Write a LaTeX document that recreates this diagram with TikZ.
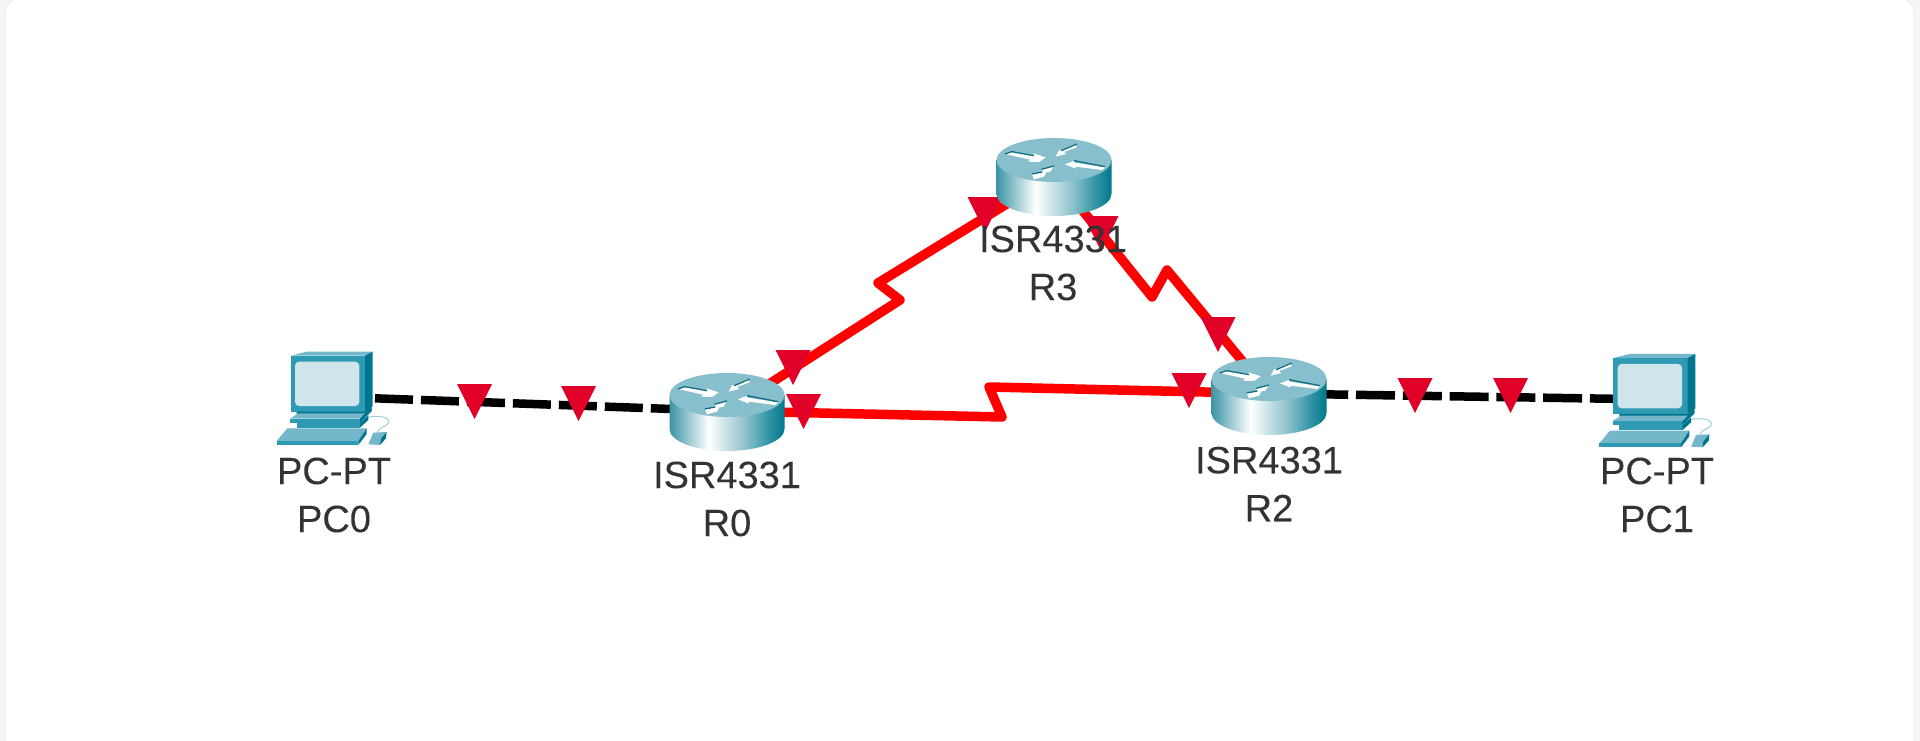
\documentclass[tikz,border=0pt]{standalone}
\usepackage{fontspec}
\setmainfont[FakeBold=0.12]{Liberation Sans}
\definecolor{cardbg}{HTML}{F6F6F6}
\definecolor{cardedge}{HTML}{ECECEC}
\definecolor{statusred}{HTML}{E00028}
\definecolor{linkred}{HTML}{FF0000}
\definecolor{txt}{HTML}{333333}
\definecolor{rtop}{HTML}{88BFCD}
\definecolor{rshadow}{HTML}{0F6F80}
\definecolor{pcmid}{HTML}{2F9AB4}
\definecolor{pcdark}{HTML}{00758F}
\definecolor{pclight}{HTML}{74B6CA}
\definecolor{pcscreen}{HTML}{D0E4EC}
\pgfdeclarehorizontalshading{routerside}{100bp}{
  rgb(0bp)=(0.23,0.58,0.65);
  rgb(25bp)=(0.23,0.58,0.65);
  rgb(42bp)=(1,1,1);
  rgb(58bp)=(0.55,0.76,0.80);
  rgb(68bp)=(0.20,0.58,0.65);
  rgb(75bp)=(0,0.47,0.55);
  rgb(100bp)=(0,0.47,0.55)}
\tikzset{
  x=1pt,y=-1pt,
  hub/.style={inner sep=0pt,minimum size=0pt,outer sep=0pt},
  serial/.style={draw=linkred,line width=9.5pt,line join=round},
  ether/.style={draw=black,line width=8.5pt},
  label/.style={text=txt,align=center,font=\fontsize{38}{48}\selectfont,inner sep=0pt},
  tri/.pic={\fill[statusred] (-17.5,0) -- (17.5,0) -- (0,35) -- cycle;},
  router/.pic={
    \path[shading=routerside] (-57.5,0) -- (-57.5,34) arc[start angle=180,end angle=0,x radius=57.5,y radius=22] -- (57.5,0) -- cycle;
    \fill[rtop] (0,0) ellipse[x radius=57.5,y radius=22];
    \begin{scope}[scale=1/3]
      \fill[white] (-147,-18) -- (-127,-25) -- (-60,-13) -- (-62,-20) -- (-25,-8) -- (-45,6) -- (-78,5) -- (-72,-1) -- cycle;
      \draw[rshadow,line width=1.3pt] (-147,-18) -- (-127,-25) -- (-60,-13);
      \fill[white] (68,-38) -- (30,-24) -- (36,-18) -- (5,-10) -- (15,-30) -- (22,-28) -- (62,-48) -- cycle;
      \draw[rshadow,line width=1.3pt] (22,-28) -- (68,-48);
      \fill[white] (33,13) -- (62,2) -- (60,8) -- (153,22) -- (145,30) -- (65,20) -- (65,26) -- cycle;
      \draw[rshadow,line width=1.3pt] (60,2) -- (153,20);
      \fill[white] (-67,42) -- (-35,36) -- (-38,28) -- (0,18) -- (-12,36) -- (-22,36) -- (-30,50) -- (-60,58) -- cycle;
      \draw[rshadow,line width=1.3pt] (-67,42) -- (-35,36);
      \draw[rshadow,line width=1.3pt] (-38,28) -- (0,18);
    \end{scope}
  },
  pcicon/.pic={
    \begin{scope}[scale=1/3]
      \draw[pcscreen!70!pcmid,line width=1pt] (355,232) .. controls (400,222) and (435,240) .. (405,258) .. controls (392,264) and (385,268) .. (382,276);
      \fill[pclight] (122,47) -- (170,35) -- (368,35) -- (345,47) -- cycle;
      \fill[pcmid] (122,47) rectangle (345,215);
      \fill[pcdark] (345,47) -- (368,35) -- (368,198) -- (345,215) -- cycle;
      \fill[pcscreen,rounded corners=4pt] (135,65) rectangle (328,198);
      \fill[pcdark] (140,215) -- (345,215) -- (365,198) -- (365,212) -- (345,228) -- (140,228) -- cycle;
      \fill[pclight] (120,236) -- (145,220) -- (345,220) -- (330,236) -- cycle;
      \fill[pcmid] (120,236) rectangle (330,248);
      \fill[pcdark] (330,236) -- (365,202) -- (365,214) -- (330,248) -- cycle;
      \fill[pcmid] (140,248) rectangle (330,263);
      \fill[pcdark] (330,248) -- (355,226) -- (355,240) -- (330,263) -- cycle;
      \fill[pclight] (80,303) -- (112,265) -- (350,265) -- (325,303) -- cycle;
      \fill[pcmid] (80,303) rectangle (325,315);
      \fill[pcdark] (325,303) -- (350,265) -- (350,282) -- (325,315) -- cycle;
      \fill[pclight] (355,313) -- (370,278) -- (410,276) -- (392,296) -- (390,315) -- cycle;
      \fill[pcdark] (390,315) -- (392,296) -- (410,276) -- (408,295) -- cycle;
    \end{scope}
  }
}
\begin{document}
\begin{tikzpicture}
\useasboundingbox (0,0) rectangle (1920,741);
\fill[cardbg] (0,0) rectangle (1920,741);
\draw[cardedge,line width=1pt,fill=white,rounded corners=15pt] (5,-2) rectangle (1914,780);
% anchors
\node[hub] (PC0) at (325,396.5) {};
\node[hub] (R0) at (727,411) {};
\node[hub] (R3) at (1054,175) {};
\node[hub] (R2) at (1269,393.5) {};
\node[hub] (PC1) at (1660,399.5) {};
\coordinate (a1) at (900,300);
\coordinate (a2) at (878,283);
\coordinate (b1) at (1152,297);
\coordinate (b2) at (1167,270);
\coordinate (c1) at (1002,417);
\coordinate (c2) at (989,387);
% links
\draw[ether,dash pattern=on 38pt off 8pt,dash phase=42pt] (PC0) -- (R0);
\draw[ether,dash pattern=on 39pt off 7.8pt,dash phase=6.6pt] (R2) -- (PC1);
\draw[serial] (R0) -- (a1) -- (a2) -- (R3);
\draw[serial] (R3) -- (b1) -- (b2) -- (R2);
\draw[serial] (R0) -- (c1) -- (c2) -- (R2);
% link status
\pic at (474.5,384) {tri};
\pic at (578.5,386) {tri};
\pic at (793,350) {tri};
\pic at (803.5,394) {tri};
\pic at (985,197) {tri};
\pic at (1101,216) {tri};
\pic at (1218,317) {tri};
\pic at (1189,373) {tri};
\pic at (1415,378) {tri};
\pic at (1510.5,378) {tri};
% devices
\pic at (727,395) {router};
\pic at (1054,160) {router};
\pic at (1269,379) {router};
\pic at (250,340) {pcicon};
\pic at (1572.7,342.3) {pcicon};
% labels
\node[label] (lPC0) at (334,495) {PC-PT\\PC0};
\node[label] (lR0) at (727,499) {ISR4331\\R0};
\node[label] (lR3) at (1053,263) {ISR4331\\R3};
\node[label] (lR2) at (1269,484) {ISR4331\\R2};
\node[label] (lPC1) at (1657,495) {PC-PT\\PC1};
\end{tikzpicture}
\end{document}
